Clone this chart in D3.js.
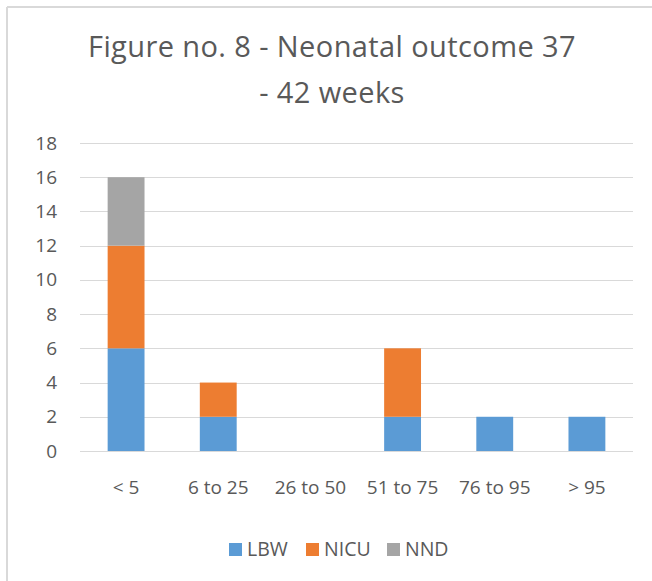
<!DOCTYPE html>
<html lang="en">
<head>
  <meta charset="utf-8">
  <script src="https://d3js.org/d3.v7.min.js"></script>
  <style>
    body {
      margin: 0;
      background: #fff;
      font-family: "Open Sans", sans-serif;
    }

    .axis text {
      fill: #595959;
      font: 19px "Open Sans", sans-serif;
    }

    .grid line {
      stroke: #d9d9d9;
      stroke-width: 1.3px;
      shape-rendering: crispEdges;
    }
  </style>
</head>
<body>
<div id="chart"></div>
<script>
  // data
  var categories = ["< 5", "6 to 25", "26 to 50", "51 to 75", "76 to 95", "> 95"];
  var seriesNames = ["LBW", "NICU", "NND"];
  var lbw  = [6, 2, 0, 2, 2, 2];
  var nicu = [6, 2, 0, 4, 0, 0];
  var nnd  = [4, 0, 0, 0, 0, 0];
  var yTicks = [0, 2, 4, 6, 8, 10, 12, 14, 16, 18];
  var titleLines = ["Figure no. 8 - Neonatal outcome 37", "- 42 weeks"];

  var colors = {LBW: "#5b9bd5", NICU: "#ed7d31", NND: "#a5a5a5"};

  var W = 652, H = 581;
  var plot = {left: 80, right: 633, top: 143, bottom: 451};

  var rows = categories.map(function (c, i) {
    return {cat: c, LBW: lbw[i], NICU: nicu[i], NND: nnd[i]};
  });

  var svg = d3.select("#chart").append("svg")
          .attr("width", W)
          .attr("height", H)
          .style("display", "block");

  // chart frame (only left and top edges show in the picture)
  svg.append("line").attr("x1", 7).attr("x2", 7).attr("y1", 7).attr("y2", H)
          .attr("stroke", "#d9d9d9").attr("stroke-width", 2);
  svg.append("line").attr("x1", 7).attr("x2", W).attr("y1", 7).attr("y2", 7)
          .attr("stroke", "#d9d9d9").attr("stroke-width", 2);

  // title
  svg.append("text")
          .attr("x", 332)
          .attr("y", 57)
          .attr("text-anchor", "middle")
          .style("font", "29px 'Open Sans', sans-serif")
          .style("letter-spacing", "0.4px")
          .style("fill", "#595959")
          .selectAll("tspan")
          .data(titleLines)
          .enter().append("tspan")
          .attr("x", 332)
          .attr("dy", function (d, i) { return i ? 46 : 0; })
          .text(function (d) { return d; });

  var x = d3.scaleBand()
          .domain(categories)
          .range([plot.left, plot.right])
          .paddingInner(0.6)
          .paddingOuter(0.3);

  var y = d3.scaleLinear()
          .domain([0, 18])
          .range([plot.bottom, plot.top]);

  // gridlines
  svg.append("g")
          .attr("class", "grid")
          .selectAll("line")
          .data(yTicks)
          .enter().append("line")
          .attr("x1", plot.left)
          .attr("x2", plot.right)
          .attr("y1", function (d) { return Math.round(y(d)) + 0.5; })
          .attr("y2", function (d) { return Math.round(y(d)) + 0.5; });

  // y axis labels
  var yAxis = d3.axisLeft(y).tickValues(yTicks).tickSize(0).tickPadding(0);
  svg.append("g")
          .attr("class", "axis axis--y")
          .attr("transform", "translate(57,0)")
          .call(yAxis)
          .call(function (g) { g.select(".domain").remove(); });

  // x axis labels
  var xAxis = d3.axisBottom(x).tickSize(0).tickPadding(30);
  svg.append("g")
          .attr("class", "axis axis--x")
          .attr("transform", "translate(0," + plot.bottom + ")")
          .call(xAxis)
          .call(function (g) { g.select(".domain").remove(); });

  // stacked bars
  var stacked = d3.stack().keys(seriesNames)(rows);

  svg.append("g")
          .selectAll("g")
          .data(stacked)
          .enter().append("g")
          .attr("fill", function (d) { return colors[d.key]; })
          .selectAll("rect")
          .data(function (d) { return d; })
          .enter().append("rect")
          .filter(function (d) { return d[1] > d[0]; })
          .attr("x", function (d) { return x(d.data.cat); })
          .attr("width", x.bandwidth())
          .attr("y", function (d) { return y(d[1]); })
          .attr("height", function (d) { return y(d[0]) - y(d[1]); });

  // legend
  var legendX = [229, 306, 387];
  var legend = svg.append("g")
          .selectAll("g")
          .data(seriesNames)
          .enter().append("g")
          .attr("transform", function (d, i) { return "translate(" + legendX[i] + ",543)"; });

  legend.append("rect")
          .attr("width", 13)
          .attr("height", 13)
          .attr("fill", function (d) { return colors[d]; });

  legend.append("text")
          .attr("x", 18)
          .attr("y", 13)
          .style("font", "19.5px 'Open Sans', sans-serif")
          .style("fill", "#595959")
          .text(function (d) { return d; });
</script>
</body>
</html>
